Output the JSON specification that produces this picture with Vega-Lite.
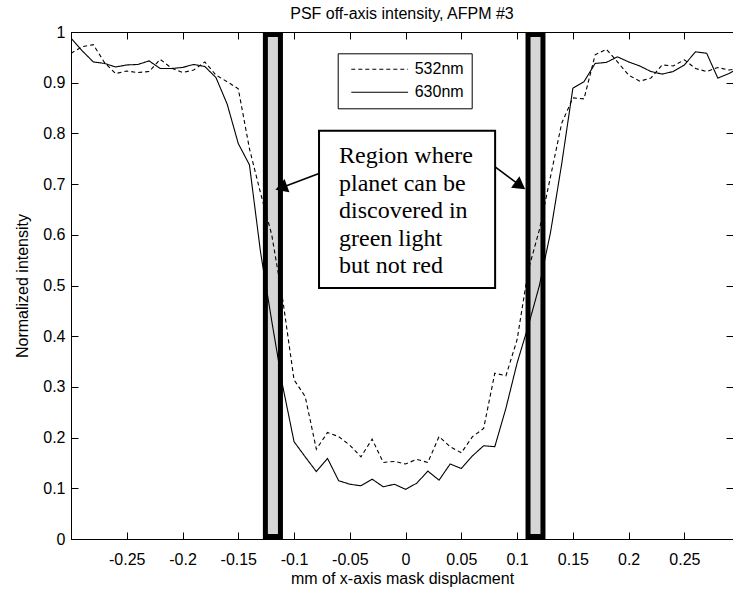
{
  "$schema": "https://vega.github.io/schema/vega-lite/v6.json",
  "width": 662,
  "height": 507,
  "autosize": "none",
  "padding": {"left": 71, "top": 32, "right": 0, "bottom": 50},
  "background": "white",
  "title": {"text": "PSF off-axis intensity, AFPM #3", "font": "Liberation Sans", "fontSize": 16, "fontWeight": "normal", "color": "black", "anchor": "middle", "frame": "group", "baseline": "alphabetic", "offset": -4, "dy": 7},
  "datasets": {
    "curves": [
      {"x": -0.30, "y": 0.958, "series": "532nm"}, {"x": -0.29, "y": 0.971, "series": "532nm"}, {"x": -0.28, "y": 0.975, "series": "532nm"}, {"x": -0.27, "y": 0.940, "series": "532nm"}, {"x": -0.26, "y": 0.918, "series": "532nm"}, {"x": -0.25, "y": 0.923, "series": "532nm"}, {"x": -0.24, "y": 0.920, "series": "532nm"}, {"x": -0.23, "y": 0.922, "series": "532nm"}, {"x": -0.22, "y": 0.946, "series": "532nm"}, {"x": -0.21, "y": 0.929, "series": "532nm"}, {"x": -0.20, "y": 0.920, "series": "532nm"}, {"x": -0.19, "y": 0.925, "series": "532nm"}, {"x": -0.18, "y": 0.941, "series": "532nm"}, {"x": -0.17, "y": 0.915, "series": "532nm"}, {"x": -0.16, "y": 0.902, "series": "532nm"}, {"x": -0.15, "y": 0.888, "series": "532nm"}, {"x": -0.14, "y": 0.770, "series": "532nm"}, {"x": -0.13, "y": 0.682, "series": "532nm"}, {"x": -0.12, "y": 0.600, "series": "532nm"}, {"x": -0.11, "y": 0.470, "series": "532nm"}, {"x": -0.10, "y": 0.314, "series": "532nm"}, {"x": -0.09, "y": 0.281, "series": "532nm"}, {"x": -0.08, "y": 0.177, "series": "532nm"}, {"x": -0.07, "y": 0.210, "series": "532nm"}, {"x": -0.06, "y": 0.202, "series": "532nm"}, {"x": -0.05, "y": 0.185, "series": "532nm"}, {"x": -0.04, "y": 0.162, "series": "532nm"}, {"x": -0.03, "y": 0.197, "series": "532nm"}, {"x": -0.02, "y": 0.151, "series": "532nm"}, {"x": -0.01, "y": 0.153, "series": "532nm"}, {"x": 0.00, "y": 0.148, "series": "532nm"}, {"x": 0.01, "y": 0.157, "series": "532nm"}, {"x": 0.02, "y": 0.151, "series": "532nm"}, {"x": 0.03, "y": 0.202, "series": "532nm"}, {"x": 0.04, "y": 0.182, "series": "532nm"}, {"x": 0.05, "y": 0.170, "series": "532nm"}, {"x": 0.06, "y": 0.202, "series": "532nm"}, {"x": 0.07, "y": 0.218, "series": "532nm"}, {"x": 0.08, "y": 0.327, "series": "532nm"}, {"x": 0.09, "y": 0.322, "series": "532nm"}, {"x": 0.10, "y": 0.393, "series": "532nm"}, {"x": 0.11, "y": 0.530, "series": "532nm"}, {"x": 0.12, "y": 0.610, "series": "532nm"}, {"x": 0.13, "y": 0.715, "series": "532nm"}, {"x": 0.14, "y": 0.820, "series": "532nm"}, {"x": 0.15, "y": 0.870, "series": "532nm"}, {"x": 0.16, "y": 0.868, "series": "532nm"}, {"x": 0.17, "y": 0.955, "series": "532nm"}, {"x": 0.18, "y": 0.966, "series": "532nm"}, {"x": 0.19, "y": 0.941, "series": "532nm"}, {"x": 0.20, "y": 0.915, "series": "532nm"}, {"x": 0.21, "y": 0.903, "series": "532nm"}, {"x": 0.22, "y": 0.909, "series": "532nm"}, {"x": 0.23, "y": 0.935, "series": "532nm"}, {"x": 0.24, "y": 0.933, "series": "532nm"}, {"x": 0.25, "y": 0.945, "series": "532nm"}, {"x": 0.26, "y": 0.928, "series": "532nm"}, {"x": 0.27, "y": 0.922, "series": "532nm"}, {"x": 0.28, "y": 0.930, "series": "532nm"}, {"x": 0.29, "y": 0.925, "series": "532nm"}, {"x": 0.30, "y": 0.928, "series": "532nm"},
      {"x": -0.30, "y": 0.988, "series": "630nm"}, {"x": -0.29, "y": 0.963, "series": "630nm"}, {"x": -0.28, "y": 0.941, "series": "630nm"}, {"x": -0.27, "y": 0.938, "series": "630nm"}, {"x": -0.26, "y": 0.931, "series": "630nm"}, {"x": -0.25, "y": 0.935, "series": "630nm"}, {"x": -0.24, "y": 0.936, "series": "630nm"}, {"x": -0.23, "y": 0.943, "series": "630nm"}, {"x": -0.22, "y": 0.928, "series": "630nm"}, {"x": -0.21, "y": 0.928, "series": "630nm"}, {"x": -0.20, "y": 0.930, "series": "630nm"}, {"x": -0.19, "y": 0.936, "series": "630nm"}, {"x": -0.18, "y": 0.932, "series": "630nm"}, {"x": -0.17, "y": 0.910, "series": "630nm"}, {"x": -0.16, "y": 0.858, "series": "630nm"}, {"x": -0.15, "y": 0.780, "series": "630nm"}, {"x": -0.14, "y": 0.738, "series": "630nm"}, {"x": -0.13, "y": 0.565, "series": "630nm"}, {"x": -0.12, "y": 0.430, "series": "630nm"}, {"x": -0.11, "y": 0.300, "series": "630nm"}, {"x": -0.10, "y": 0.192, "series": "630nm"}, {"x": -0.09, "y": 0.162, "series": "630nm"}, {"x": -0.08, "y": 0.133, "series": "630nm"}, {"x": -0.07, "y": 0.159, "series": "630nm"}, {"x": -0.06, "y": 0.115, "series": "630nm"}, {"x": -0.05, "y": 0.108, "series": "630nm"}, {"x": -0.04, "y": 0.105, "series": "630nm"}, {"x": -0.03, "y": 0.118, "series": "630nm"}, {"x": -0.02, "y": 0.103, "series": "630nm"}, {"x": -0.01, "y": 0.108, "series": "630nm"}, {"x": 0.00, "y": 0.098, "series": "630nm"}, {"x": 0.01, "y": 0.110, "series": "630nm"}, {"x": 0.02, "y": 0.134, "series": "630nm"}, {"x": 0.03, "y": 0.116, "series": "630nm"}, {"x": 0.04, "y": 0.148, "series": "630nm"}, {"x": 0.05, "y": 0.139, "series": "630nm"}, {"x": 0.06, "y": 0.164, "series": "630nm"}, {"x": 0.07, "y": 0.184, "series": "630nm"}, {"x": 0.08, "y": 0.182, "series": "630nm"}, {"x": 0.09, "y": 0.258, "series": "630nm"}, {"x": 0.10, "y": 0.347, "series": "630nm"}, {"x": 0.11, "y": 0.420, "series": "630nm"}, {"x": 0.12, "y": 0.500, "series": "630nm"}, {"x": 0.13, "y": 0.605, "series": "630nm"}, {"x": 0.14, "y": 0.740, "series": "630nm"}, {"x": 0.15, "y": 0.889, "series": "630nm"}, {"x": 0.16, "y": 0.902, "series": "630nm"}, {"x": 0.17, "y": 0.938, "series": "630nm"}, {"x": 0.18, "y": 0.940, "series": "630nm"}, {"x": 0.19, "y": 0.951, "series": "630nm"}, {"x": 0.20, "y": 0.941, "series": "630nm"}, {"x": 0.21, "y": 0.933, "series": "630nm"}, {"x": 0.22, "y": 0.922, "series": "630nm"}, {"x": 0.23, "y": 0.917, "series": "630nm"}, {"x": 0.24, "y": 0.922, "series": "630nm"}, {"x": 0.25, "y": 0.935, "series": "630nm"}, {"x": 0.26, "y": 0.961, "series": "630nm"}, {"x": 0.27, "y": 0.958, "series": "630nm"}, {"x": 0.28, "y": 0.909, "series": "630nm"}, {"x": 0.29, "y": 0.918, "series": "630nm"}, {"x": 0.30, "y": 0.930, "series": "630nm"}
    ],
    "bands": [
      {"x": -0.1257, "x2": -0.1122, "y": 0.005, "y2": 0.995},
      {"x": 0.1098, "x2": 0.1232, "y": 0.005, "y2": 0.995}
    ],
    "notebox": [
      {"x": -0.0776, "x2": 0.0803, "y": 0.495, "y2": 0.805}
    ],
    "notetext": [
      {"x": -0.0597, "y": 0.741, "label": "Region where"},
      {"x": -0.0597, "y": 0.687, "label": "planet can be"},
      {"x": -0.0597, "y": 0.6325, "label": "discovered in"},
      {"x": -0.0597, "y": 0.578, "label": "green light"},
      {"x": -0.0597, "y": 0.524, "label": "but not red"}
    ],
    "arrowlines": [
      {"x": -0.0776, "y": 0.721, "x2": -0.1115, "y2": 0.693},
      {"x": 0.0803, "y": 0.734, "x2": 0.1028, "y2": 0.697}
    ],
    "headleft": [{"x": -0.1115, "y": 0.693}],
    "headright": [{"x": 0.1028, "y": 0.697}]
  },
  "encoding": {
    "x": {"field": "x", "type": "quantitative", "scale": {"domain": [-0.3, 0.2936], "nice": false, "zero": false}, "axis": null},
    "y": {"field": "y", "type": "quantitative", "scale": {"domain": [0, 1], "nice": false, "zero": false}, "axis": null}
  },
  "layer": [
    {
      "data": {"name": "bands"},
      "mark": {"type": "rect", "fill": "#d6d6d6", "stroke": "black", "strokeWidth": 5},
      "encoding": {"x2": {"field": "x2"}, "y2": {"field": "y2"}}
    },
    {
      "data": {"name": "curves"},
      "mark": {"type": "line", "color": "black", "strokeWidth": 1.1, "clip": true},
      "encoding": {
        "x": {"field": "x", "type": "quantitative", "scale": {"domain": [-0.3, 0.2936], "nice": false, "zero": false},
          "axis": {"orient": "bottom", "values": [-0.25, -0.2, -0.15, -0.1, -0.05, 0, 0.05, 0.1, 0.15, 0.2, 0.25], "labelExpr": "'' + datum.value", "title": "mm of x-axis mask displacment", "labelPadding": 19, "titleY": 44, "titleBaseline": "alphabetic", "tickSize": -7, "labelFlush": false}},
        "y": {"field": "y", "type": "quantitative", "scale": {"domain": [0, 1], "nice": false, "zero": false},
          "axis": {"orient": "left", "values": [0, 0.1, 0.2, 0.3, 0.4, 0.5, 0.6, 0.7, 0.8, 0.9, 1], "labelExpr": "'' + datum.value", "title": "Normalized intensity", "labelPadding": 13, "titleX": -44, "titleBaseline": "alphabetic", "tickSize": -7, "labelFlush": false}},
        "strokeDash": {"field": "series", "type": "nominal", "scale": {"domain": ["532nm", "630nm"], "range": [[4, 3], [1, 0]]},
          "legend": {"orient": "none", "legendX": 266.7, "legendY": 21.3, "title": null, "strokeColor": "black", "fillColor": "white", "padding": 8, "symbolType": "M-0.6,0H13.6", "symbolSize": 64, "symbolStrokeWidth": 1.1, "symbolStrokeColor": "black", "labelFont": "Liberation Sans", "labelFontSize": 16, "labelColor": "black", "labelOffset": 53, "rowPadding": 7}}
      }
    },
    {
      "data": {"name": "notebox"},
      "mark": {"type": "rect", "fill": "white", "stroke": "black", "strokeWidth": 2},
      "encoding": {
        "x": {"field": "x", "type": "quantitative", "scale": {"domain": [-0.3, 0.2936], "nice": false, "zero": false},
          "axis": {"orient": "top", "values": [-0.25, -0.2, -0.15, -0.1, -0.05, 0, 0.05, 0.1, 0.15, 0.2, 0.25], "labels": false, "title": null, "tickSize": -7, "domain": true}},
        "y": {"field": "y", "type": "quantitative", "scale": {"domain": [0, 1], "nice": false, "zero": false},
          "axis": {"orient": "right", "values": [0, 0.1, 0.2, 0.3, 0.4, 0.5, 0.6, 0.7, 0.8, 0.9, 1], "labels": false, "title": null, "tickSize": -7, "domain": true}},
        "x2": {"field": "x2"},
        "y2": {"field": "y2"}
      }
    },
    {
      "data": {"name": "notetext"},
      "mark": {"type": "text", "font": "Liberation Serif", "fontSize": 24, "align": "left", "baseline": "alphabetic", "color": "black"},
      "encoding": {"text": {"field": "label"}}
    },
    {
      "data": {"name": "arrowlines"},
      "mark": {"type": "rule", "color": "black", "strokeWidth": 1.6},
      "encoding": {"x2": {"field": "x2"}, "y2": {"field": "y2"}}
    },
    {
      "data": {"name": "headleft"},
      "mark": {"type": "point", "shape": "triangle-right", "filled": true, "color": "black", "opacity": 1, "size": 200, "angle": 160},
      "encoding": {}
    },
    {
      "data": {"name": "headright"},
      "mark": {"type": "point", "shape": "triangle-right", "filled": true, "color": "black", "opacity": 1, "size": 200, "angle": 36},
      "encoding": {}
    }
  ],
  "resolve": {"axis": {"x": "independent", "y": "independent"}},
  "config": {
    "view": {"stroke": "black", "strokeWidth": 1},
    "font": "Liberation Sans",
    "axis": {"domainColor": "black", "tickColor": "black", "labelColor": "black", "titleColor": "black", "labelFont": "Liberation Sans", "titleFont": "Liberation Sans", "labelFontSize": 16, "titleFontSize": 16, "titleFontWeight": "normal", "grid": false, "tickWidth": 1, "domainWidth": 1}
  }
}
